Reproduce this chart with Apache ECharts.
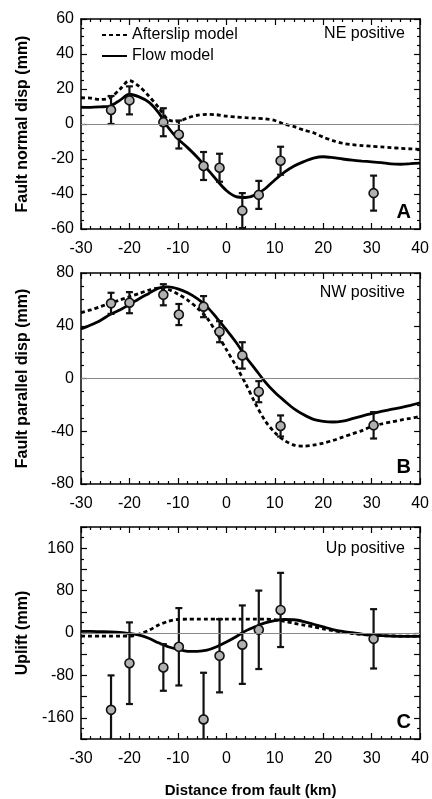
<!DOCTYPE html>
<html>
<head>
<meta charset="utf-8">
<script src="https://cdn.jsdelivr.net/npm/echarts@6/dist/echarts.min.js"></script>
<style>
  html, body { margin: 0; padding: 0; background: #fff; }
  #chart { width: 432px; height: 799px; }
</style>
</head>
<body>
<div id="chart"></div>
<script>
// station positions (km from fault) and observed displacements (mm)
var stations = [-23.8, -20, -13, -9.8, -4.7, -1.4, 3.3, 6.7, 11.2, 30.4];
var normalObs = [8, 13.5, 1, -6, -24, -25, -49.5, -40.5, -21, -39.5];
var normalErr = [8, 8, 8, 8, 8, 8, 10, 8, 8, 10];
var parallelObs = [57, 57.5, 63.5, 48.5, 54.5, 35.5, 17.5, -10, -36, -35.5];
var parallelErr = [8, 8, 8, 8, 8, 8, 10, 8, 8, 10];
var upliftObs = [-145, -57, -65, -26, -163, -43, -22, 6, 43.5, -11];
var upliftErr = [65, 77, 44, 73, 88, 69, 74, 74, 70, 56];

// model curves sampled every 2 km
var modelX = [-30, -28, -26, -24, -22, -20, -18, -16, -14, -12, -10, -8, -6, -4, -2, 0, 2, 4,
              6, 8, 10, 12, 14, 16, 18, 20, 22, 24, 26, 28, 30, 32, 34, 36, 38, 40];
var normalFlow = [9.5, 9.5, 9.8, 10.3, 13.5, 17, 15.5, 12.5, 6.5, -2, -8.5, -13.5, -19, -25.5, -32, -38, -41.5, -42,
                  -40.5, -37, -32, -27.5, -24, -21.5, -19.5, -18.7, -19.2, -20, -20.7, -21.2, -21.6, -22.1, -22.8, -23, -22.7, -22.3];
var normalAfter = [15, 14.8, 14, 15, 19.8, 24.8, 21.5, 16, 9.5, 2.5, 1.5, 3.5, 5, 5.5, 5.3, 4.5, 4, 3.6,
                   3.3, 3, 2, 0, -1.5, -3.5, -5, -7.5, -9.5, -11, -11.8, -12.3, -12.7, -13.1, -13.5, -13.9, -14.2, -14.5];
var parallelFlow = [37.5, 40.5, 44, 48.5, 52, 56, 60.5, 64.5, 68.5, 69.5, 68, 65, 60.5, 54.5, 46, 37, 27.5, 16.5,
                    7, -2.5, -10.5, -17, -23, -27.5, -31, -32.5, -33, -32.3, -30.5, -28.5, -26.7, -25, -23.5, -22, -20.3, -18.5];
var parallelAfter = [50, 52, 54.5, 57, 59.5, 62, 64.5, 67, 68.5, 67.5, 64, 59.5, 53.5, 46, 34.5, 22, 9.5, -4,
                     -19, -32, -41, -47, -50.5, -51.3, -50.5, -49, -47, -44.5, -42, -39.5, -36.5, -34.5, -33, -31.5, -30.2, -28.8];
var upliftFlow = [3, 3, 2.5, 2, 1, -1, -4, -10, -18.5, -26, -31, -34.5, -34.5, -32.5, -26, -17, -7, 4,
                  12, 19, 23.5, 25.5, 25, 21.5, 16.5, 11.5, 6.5, 3, 0.5, -2, -4, -5, -5.8, -6.2, -6.4, -6.5];
var upliftAfter = [-6, -6, -6, -6, -6, -6, -2, 5, 15, 22, 25.5, 26, 26, 26, 26, 26, 26, 26,
                   26, 26, 25, 22, 18.5, 15, 11.5, 8, 4.5, 1.5, -1, -3, -4.2, -5, -5.5, -5.8, -6, -6];

var xTicks = { min: -30, max: 40, interval: 10 };
var yRanges = [
    { min: -60, max: 60, interval: 20, minor: 4, step: 20 },
    { min: -80, max: 80, interval: 40, minor: 4, step: 40 },
    { min: -200, max: 200, interval: 40, minor: 2, step: 80 }
];
var yNames = ['Fault normal disp (mm)', 'Fault parallel disp (mm)', 'Uplift (mm)'];

var FONT = '"Liberation Sans", Arial, Helvetica, sans-serif';
var grids = [
    { left: 81, top: 19, width: 340, height: 210 },
    { left: 81, top: 273, width: 340, height: 211 },
    { left: 81, top: 527, width: 340, height: 212 }
];

function pairs(xs, ys) {
    return xs.map(function (x, i) { return [x, ys[i]]; });
}
function bars(xs, ys, es) {
    return xs.map(function (x, i) { return [x, ys[i] - es[i], ys[i] + es[i]]; });
}

function renderErr(params, api) {
    var cs = params.coordSys;
    var x = api.value(0);
    var lo = api.coord([x, api.value(1)]);
    var hi = api.coord([x, api.value(2)]);
    var yMin = cs.y, yMax = cs.y + cs.height;
    var topY = Math.max(hi[1], yMin), botY = Math.min(lo[1], yMax);
    var style = { stroke: '#111', lineWidth: 2.2 };
    var cap = 3.5;
    var kids = [{ type: 'line', shape: { x1: hi[0], y1: topY, x2: hi[0], y2: botY }, style: style }];
    if (hi[1] >= yMin) kids.push({ type: 'line', shape: { x1: hi[0] - cap, y1: topY, x2: hi[0] + cap, y2: topY }, style: style });
    if (lo[1] <= yMax) kids.push({ type: 'line', shape: { x1: lo[0] - cap, y1: botY, x2: lo[0] + cap, y2: botY }, style: style });
    return { type: 'group', children: kids };
}

var xAxes = [], yAxes = [], series = [];
var axisLine = { show: true, onZero: false, lineStyle: { color: '#000', width: 1.5 } };
var tick = { inside: true, length: 6, lineStyle: { color: '#000', width: 1.2 } };

grids.forEach(function (g, i) {
    var yr = yRanges[i];
    ['bottom', 'top'].forEach(function (pos) {
        xAxes.push({
            type: 'value', gridIndex: i, position: pos,
            min: xTicks.min, max: xTicks.max, interval: xTicks.interval,
            axisLine: axisLine, axisTick: tick,
            minorTick: { show: true, splitNumber: 5, length: 3, lineStyle: { color: '#000', width: 1.2 } },
            splitLine: { show: false },
            axisLabel: { show: pos === 'bottom', fontSize: 16, color: '#000', fontFamily: FONT, margin: 12 },
            name: (i === 2 && pos === 'bottom') ? 'Distance from fault (km)' : '',
            nameLocation: 'middle', nameGap: 44,
            nameTextStyle: { fontSize: 15, fontWeight: 'bold', color: '#000', fontFamily: FONT }
        });
    });
    ['left', 'right'].forEach(function (pos) {
        yAxes.push({
            type: 'value', gridIndex: i, position: pos,
            min: yr.min, max: yr.max, interval: yr.interval,
            axisLine: axisLine, axisTick: tick,
            minorTick: { show: true, splitNumber: yr.minor, length: 3, lineStyle: { color: '#000', width: 1.2 } },
            splitLine: { show: false },
            axisLabel: {
                show: pos === 'left', fontSize: 16, color: '#000', fontFamily: FONT, margin: 7,
                formatter: function (v) { return v % yr.step === 0 ? String(v) : ''; }
            },
            name: pos === 'left' ? yNames[i] : '', nameLocation: 'middle', nameGap: 50,
            nameTextStyle: { fontSize: 16, fontWeight: 'bold', color: '#000', fontFamily: FONT }
        });
    });
});

var panels = [
    { obs: normalObs, err: normalErr, flow: normalFlow, after: normalAfter },
    { obs: parallelObs, err: parallelErr, flow: parallelFlow, after: parallelAfter },
    { obs: upliftObs, err: upliftErr, flow: upliftFlow, after: upliftAfter }
];

panels.forEach(function (p, i) {
    var xi = i * 2, yi = i * 2;
    series.push({
        name: 'Afterslip model', type: 'line', xAxisIndex: xi, yAxisIndex: yi,
        data: pairs(modelX, p.after), smooth: 0.3, symbol: 'none', z: 1,
        itemStyle: { color: '#000' },
        lineStyle: { color: '#000', width: 2.8, type: [4, 3] }, silent: true
    });
    series.push({
        name: 'Flow model', type: 'line', xAxisIndex: xi, yAxisIndex: yi,
        data: pairs(modelX, p.flow), smooth: 0.3, symbol: 'none', z: 1,
        itemStyle: { color: '#000' },
        lineStyle: { color: '#000', width: 2.8 }, silent: true,
        markLine: {
            silent: true, symbol: 'none', label: { show: false },
            lineStyle: { color: '#888', width: 1, type: 'solid' },
            data: [{ yAxis: 0 }]
        }
    });
    series.push({
        type: 'custom', xAxisIndex: xi, yAxisIndex: yi, z: 2,
        data: bars(stations, p.obs, p.err), renderItem: renderErr, silent: true
    });
    series.push({
        type: 'scatter', xAxisIndex: xi, yAxisIndex: yi, z: 3,
        data: pairs(stations, p.obs), symbol: 'circle', symbolSize: 9,
        itemStyle: { color: '#b0b0b0', borderColor: '#111', borderWidth: 1.6, opacity: 1 }
    });
});

var notes = [
    { text: 'NE positive', y: 34 }, { text: 'NW positive', y: 293 }, { text: 'Up positive', y: 549 }
];
var letters = [
    { text: 'A', y: 212 }, { text: 'B', y: 467 }, { text: 'C', y: 722 }
];
var graphics = [];
notes.forEach(function (n) {
    graphics.push({ type: 'text', x: 405, y: n.y, style: { text: n.text, align: 'right', verticalAlign: 'middle', font: '16px ' + FONT, fill: '#000' } });
});
letters.forEach(function (n) {
    graphics.push({ type: 'text', x: 411, y: n.y, style: { text: n.text, align: 'right', verticalAlign: 'middle', font: 'bold 20px ' + FONT, fill: '#000' } });
});

var myChart = echarts.init(document.getElementById('chart'), null, { renderer: 'canvas' });
myChart.setOption({
    animation: false,
    backgroundColor: '#fff',
    grid: grids,
    xAxis: xAxes,
    yAxis: yAxes,
    legend: {
        data: ['Afterslip model', 'Flow model'],
        orient: 'vertical', left: 96, top: 22,
        itemWidth: 25, itemHeight: 14, itemGap: 5,
        itemStyle: { opacity: 0 },
        textStyle: { fontSize: 16, color: '#000', fontFamily: FONT },
        selectedMode: false
    },
    graphic: graphics,
    series: series
});
</script>
</body>
</html>
